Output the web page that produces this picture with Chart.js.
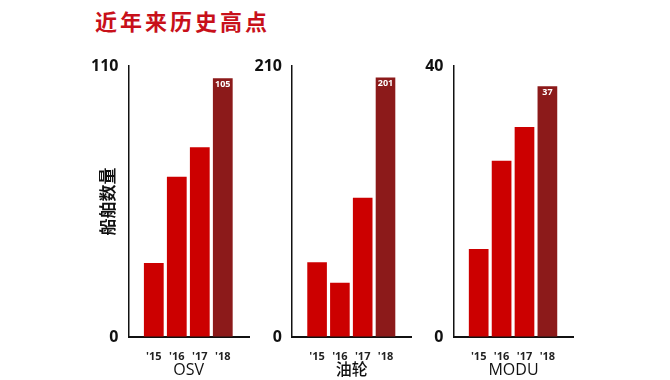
<!DOCTYPE html>
<html><head><meta charset="utf-8">
<script src="https://cdn.jsdelivr.net/npm/chart.js@4/dist/chart.umd.min.js"></script>
<style>
html,body{margin:0;padding:0;background:#fff;width:670px;height:380px;overflow:hidden;}
#title{position:absolute;left:95px;top:5px;font-family:'Noto Sans CJK SC',sans-serif;font-weight:700;font-size:22px;letter-spacing:3px;color:#c8101a;line-height:30px;}
.box{position:absolute;top:0;height:380px;}
</style></head>
<body>
<div id="title">近年来历史高点</div>
<div class="box" style="left:90px;width:170px"><canvas id="c1"></canvas></div>
<div class="box" style="left:250px;width:175px"><canvas id="c2"></canvas></div>
<div class="box" style="left:410px;width:180px"><canvas id="c3"></canvas></div>
<script>
const years = ["'15", "'16", "'17", "'18"];
const osvValues = [30, 65, 77, 105];
const tankerValues = [58, 42, 108, 201];
const moduValues = [13, 26, 31, 37];
const osvTicks = [0, 110];
const tankerTicks = [0, 210];
const moduTicks = [0, 40];
const panelTitles = ['OSV', '油轮', 'MODU'];
const yAxisTitle = '船舶数量';

const FONT = "'Open Sans', 'Noto Sans CJK SC', sans-serif";
const barColors = ['#cc0000', '#cc0000', '#cc0000', '#8c1a1a'];

const valueLabel = {
  id: 'valueLabel',
  afterDatasetsDraw(chart) {
    const meta = chart.getDatasetMeta(0);
    const ds = chart.data.datasets[0];
    const last = meta.data.length - 1;
    const el = meta.data[last];
    const ctx = chart.ctx;
    ctx.save();
    ctx.fillStyle = '#fff';
    ctx.font = "bold 9px " + FONT;
    ctx.textAlign = 'center';
    ctx.textBaseline = 'middle';
    ctx.fillText(String(ds.data[last].y), el.x, el.y + 6);
    ctx.restore();
  }
};

function makeChart(id, values, ticks, xTitle, yWidth, padRight, showYTitle) {
  new Chart(document.getElementById(id), {
    type: 'bar',
    data: {
      datasets: [{
        data: values.map((v, i) => ({x: i, y: v})),
        backgroundColor: barColors,
        borderWidth: 0,
        barPercentage: 0.86,
        categoryPercentage: 1
      }]
    },
    options: {
      responsive: true,
      maintainAspectRatio: false,
      animation: false,
      events: [],
      layout: {padding: {top: 66, right: padRight, bottom: 0, left: 0}},
      plugins: {legend: {display: false}, tooltip: {enabled: false}},
      scales: {
        x: {
          type: 'linear',
          offset: false,
          bounds: 'data',
          min: -1.1,
          max: 4.14,
          grid: {drawOnChartArea: false, drawTicks: false, offset: false},
          border: {display: true, color: '#111', width: 2},
          afterBuildTicks: (s) => { s.ticks = years.map((y, i) => ({value: i})); },
          ticks: {
            autoSkip: false,
            maxRotation: 0,
            padding: 13,
            color: '#222',
            font: {family: FONT, size: 11, weight: 'bold'},
            callback: (v) => years[v]
          },
          title: {
            display: true,
            text: xTitle,
            color: '#111',
            font: {family: FONT, size: 16, weight: '500'},
            padding: {top: 0, bottom: 0}
          },
          afterFit: (s) => { s.height = 43; }
        },
        y: {
          min: ticks[0],
          max: ticks[ticks.length - 1],
          grid: {drawOnChartArea: false, drawTicks: false},
          border: {display: true, color: '#111', width: 1.5},
          afterBuildTicks: (s) => { s.ticks = ticks.map(v => ({value: v})); },
          ticks: {
            padding: 10,
            color: '#111',
            font: {family: FONT, size: 16, weight: 'bold'}
          },
          title: {
            display: showYTitle,
            text: yAxisTitle,
            color: '#111',
            font: {family: FONT, size: 17, weight: 'bold'},
            padding: {top: 9, bottom: 0}
          },
          afterFit: (s) => { s.width = yWidth; }
        }
      }
    },
    plugins: [valueLabel]
  });
}

makeChart('c1', osvValues, osvTicks, panelTitles[0], 38.5, 11, true);
makeChart('c2', tankerValues, tankerTicks, panelTitles[1], 42, 13.5, false);
makeChart('c3', moduValues, moduTicks, panelTitles[2], 43.5, 16.5, false);
</script>
</body></html>
